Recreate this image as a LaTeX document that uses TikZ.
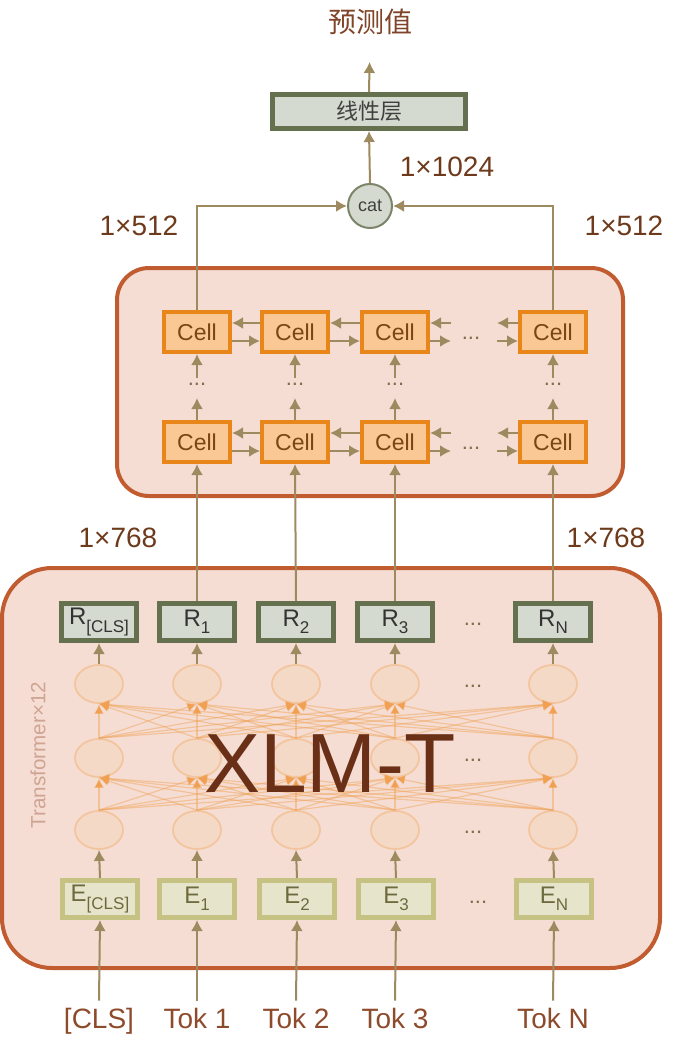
\documentclass[tikz,border=0pt]{standalone}
\usepackage{fontspec}
\setmainfont{Liberation Sans}
\newfontfamily\cjk{Noto Sans CJK SC}
\usetikzlibrary{positioning,arrows.meta,shapes}

\definecolor{panelline}{HTML}{C15C30}
\definecolor{panelfill}{HTML}{F5DDD4}
\definecolor{cellline}{HTML}{E8861A}
\definecolor{cellfill}{HTML}{F9C894}
\definecolor{celltext}{HTML}{7A4513}
\definecolor{rline}{HTML}{65704F}
\definecolor{rfill}{HTML}{D4DACF}
\definecolor{eline}{HTML}{C6C284}
\definecolor{efill}{HTML}{E6E4CA}
\definecolor{etext}{HTML}{6E6A3F}
\definecolor{arrowc}{HTML}{9D8A5F}
\definecolor{neuronline}{HTML}{F3C59E}
\definecolor{neuronfill}{HTML}{F6D8C4}
\definecolor{meshc}{HTML}{F0A050}
\definecolor{labc}{HTML}{6E3A1C}
\definecolor{tokc}{HTML}{8E4B2C}
\definecolor{xlmc}{HTML}{6A2F17}
\definecolor{trc}{HTML}{D0A493}

\newcommand{\lowsub}[1]{\raisebox{-0.3em}{\fontsize{8.5}{9}\selectfont #1}}

\tikzset{
	flow/.style={draw=arrowc, line width=1pt, -{Latex[length=5.5pt,width=6pt]}},
	mesh/.style={draw=meshc, line width=0.6pt, draw opacity=0.45, -{Latex[length=5pt,width=5pt]}},
	panel/.style={draw=panelline, fill=panelfill, line width=2pt},
	cellbox/.style={draw=cellline, fill=cellfill, line width=2pt, minimum width=33pt, minimum height=20pt, inner sep=0pt, text=celltext, font=\fontsize{11.5}{12}\selectfont},
	rbox/.style={draw=rline, fill=rfill, line width=2.4pt, minimum width=37.6pt, minimum height=18.6pt, inner sep=0pt, text=black!80, font=\fontsize{12}{12}\selectfont},
	ebox/.style={draw=eline, fill=efill, line width=2.4pt, minimum width=37.6pt, minimum height=18.6pt, inner sep=0pt, text=etext, font=\fontsize{12}{12}\selectfont},
	neuron/.style={ellipse, draw=neuronline, fill=neuronfill, fill opacity=0.8, line width=0.9pt, minimum width=24pt, minimum height=19pt, inner sep=0pt},
	dimlab/.style={text=labc, font=\fontsize{14}{14}\selectfont},
	toklab/.style={text=tokc, font=\fontsize{14}{14}\selectfont, anchor=base},
	dotlab/.style={text=arrowc!80!black, font=\fontsize{11}{11}\selectfont, inner sep=0pt}
}

\begin{document}
\begin{tikzpicture}[x=0.5pt,y=-0.5pt]
	\useasboundingbox (0,0) rectangle (677,1048);
	
	%% panels
	\draw[panel, rounded corners=25pt] (2,568) rectangle (660,968);
	\draw[panel, rounded corners=16pt] (117,268) rectangle (623,496);
	
	%% output part
	\node[text=tokc!90!black, font=\fontsize{14}{14}\selectfont\cjk] (pred) at (370,22) {预测值};
	\node[draw=rline, fill=rfill, line width=2.4pt, minimum width=96.6pt, minimum height=17.1pt, inner sep=0pt, font=\fontsize{11}{11}\selectfont\cjk, text=black!75] (lin) at (369,111.5) {线性层};
	\node[circle, draw=rline!85, fill=rfill, line width=1pt, minimum size=22pt, inner sep=0pt, font=\fontsize{9}{9}\selectfont, text=black!75] (cat) at (370,206) {cat};
	\draw[flow, shorten >=10pt] (lin.north) -- (pred.south);
	\draw[flow] (cat.north) -- (lin.south);
	
	\node[dimlab] (d1024) at (447,167) {1×1024};
	\node[dimlab] (d512l) at (139,226) {1×512};
	\node[dimlab] (d512r) at (624,226) {1×512};
	\node[dimlab] (d768l) at (118,538) {1×768};
	\node[dimlab] (d768r) at (606,538) {1×768};
	
	%% lstm cells
	\foreach \i/\x in {1/197,2/295,3/395,4/553}{
		\node[cellbox] (cu\i) at (\x,332) {Cell};
		\node[cellbox] (cl\i) at (\x,442) {Cell};
		\coordinate (va\i) at (\x,398);
		\coordinate (vb\i) at (\x,378);
		\node[dotlab] (vd\i) at (\x,384) {...};
		\draw[flow] (cl\i.north) -- (va\i);
		\draw[flow] (vb\i) -- (cu\i.south);
	}
	\foreach \row in {cu,cl}{
		\foreach \i/\j in {1/2,2/3}{
			\draw[flow] ([yshift=-4.5pt]\row\i.east) -- ([yshift=-4.5pt]\row\j.west);
			\draw[flow] ([yshift=4.5pt]\row\j.west) -- ([yshift=4.5pt]\row\i.east);
		}
	}
	\coordinate (gu3) at (451,332);
	\coordinate (gu4) at (497,332);
	\coordinate (gl3) at (451,442);
	\coordinate (gl4) at (497,442);
	\node[dotlab] (hdu) at (471,338) {...};
	\node[dotlab] (hdl) at (471,448) {...};
	\foreach \row/\g in {cu/gu,cl/gl}{
		\draw[flow] ([yshift=-4.5pt]\row3.east) -- ([yshift=-4.5pt]\g3);
		\draw[flow] ([yshift=4.5pt]\g3) -- ([yshift=4.5pt]\row3.east);
		\draw[flow] ([yshift=-4.5pt]\g4) -- ([yshift=-4.5pt]\row4.west);
		\draw[flow] ([yshift=4.5pt]\row4.west) -- ([yshift=4.5pt]\g4);
	}
	\draw[flow] (cu1.north) |- (cat.west);
	\draw[flow] (cu4.north) |- (cat.east);
	
	%% transformer part
	\foreach \i/\x in {0/99,1/197,2/296,3/395,4/553}{
		\node[neuron] (n1\i) at (\x,830) {};
		\node[neuron] (n2\i) at (\x,758) {};
		\node[neuron] (n3\i) at (\x,684) {};
	}
	\foreach \r/\s in {1/2,2/3}{
		\foreach \i in {0,...,4}{
			\foreach \j in {0,...,4}{
				\draw[mesh] (n\r\i.north) -- (n\s\j.south);
			}
		}
	}
	\node[rbox] (r0) at (99,622) {R\lowsub{[CLS]}};
	\node[rbox] (r1) at (197,622) {R\lowsub{1}};
	\node[rbox] (r2) at (296,622) {R\lowsub{2}};
	\node[rbox] (r3) at (395,622) {R\lowsub{3}};
	\node[rbox] (r4) at (553,622) {R\lowsub{N}};
	\node[ebox] (e0) at (100,899) {E\lowsub{[CLS]}};
	\node[ebox] (e1) at (197,899) {E\lowsub{1}};
	\node[ebox] (e2) at (297,899) {E\lowsub{2}};
	\node[ebox] (e3) at (396,899) {E\lowsub{3}};
	\node[ebox] (e4) at (554,899) {E\lowsub{N}};
	\node[dotlab] (rdots) at (473,624) {...};
	\node[dotlab] (edots) at (478,902) {...};
	\node[dotlab] (ndot3) at (473,686) {...};
	\node[dotlab] (ndot2) at (473,760) {...};
	\node[dotlab] (ndot1) at (473,832) {...};
	
	\node[toklab] (t0) at (99,1028) {[CLS]};
	\node[toklab] (t1) at (197,1028) {Tok 1};
	\node[toklab] (t2) at (296,1028) {Tok 2};
	\node[toklab] (t3) at (395,1028) {Tok 3};
	\node[toklab] (t4) at (553,1028) {Tok N};
	
	\foreach \i in {0,...,4}{
		\draw[flow] (t\i.north) -- (e\i.south);
		\draw[flow] (e\i.north) -- (n1\i.south);
		\draw[flow] (n3\i.north) -- (r\i.south);
	}
	\foreach \i in {1,...,4}{
		\draw[flow] (r\i.north) -- (cl\i.south);
	}
	
	\node[rotate=90, text=trc, font=\fontsize{10.3}{10}\selectfont] (trlab) at (38,755) {Transformer×12};
	\node[text=xlmc, font=\fontsize{42}{42}\selectfont] (xlm) at (330,764) {XLM-T};
\end{tikzpicture}
\end{document}
